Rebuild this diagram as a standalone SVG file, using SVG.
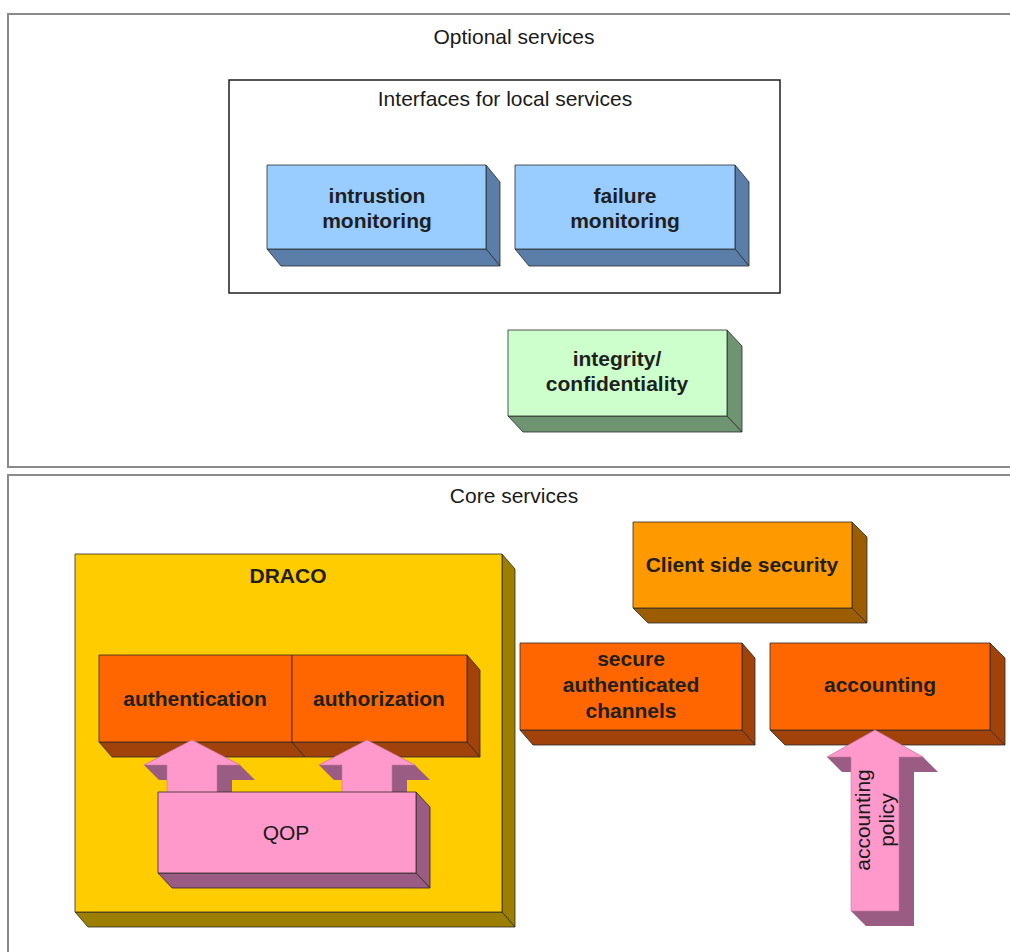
<svg xmlns="http://www.w3.org/2000/svg" width="1010" height="952" viewBox="0 0 1010 952">
  <defs>
    <style>
      .frame { fill: #ffffff; stroke: #8a8a8a; stroke-width: 2; }
      .panel { fill: #ffffff; stroke: #1e1e1e; stroke-width: 1.5; }
      .face { stroke: #2b2b2b; stroke-width: 0.8; stroke-linejoin: round; }
      .blue-f { fill: #99ccff; } .blue-s { fill: #5a7ea8; }
      .green-f { fill: #ccffcc; } .green-s { fill: #6f9472; }
      .amber-f { fill: #ff9900; } .amber-s { fill: #9c5c00; }
      .red-f { fill: #ff6600; } .red-s { fill: #a0420a; }
      .gold-f { fill: #ffcc00; } .gold-s { fill: #9c7e00; }
      .pink-f { fill: #ff99cc; } .pink-s { fill: #9a5c82; }
      .arrow-f { fill: #ff99cc; stroke: #c77aa3; stroke-width: 0.6; stroke-linejoin: round; }
      .arrow-s { fill: #9a5c82; }
      .title { font-family: "Liberation Sans", Arial, sans-serif; font-size: 21px; fill: #1a1a1a; text-anchor: middle; }
      .label { font-family: "Liberation Sans", Arial, sans-serif; font-size: 21px; font-weight: bold; fill: #1f1f1f; text-anchor: middle; }
    </style>
  </defs>

  <rect x="0" y="0" width="1010" height="952" fill="#ffffff"/>

  <!-- Optional services frame -->
  <g id="optional-services">
    <rect class="frame" x="8" y="14" width="1012" height="453"/>
    <text class="title" x="514" y="44">Optional services</text>
  </g>

  <!-- Core services frame -->
  <g id="core-services">
    <rect class="frame" x="8" y="475" width="1012" height="490"/>
    <text class="title" x="514" y="503">Core services</text>
  </g>

  <!-- Interfaces for local services panel -->
  <g id="local-interfaces">
    <rect class="panel" x="229" y="80" width="551" height="213"/>
    <text class="title" x="505" y="106">Interfaces for local services</text>
  </g>

  <g id="intrusion-monitoring">
    <polygon class="face blue-s" points="486,165 500,182 500,266 486,249"/>
    <polygon class="face blue-s" points="267,249 486,249 500,266 281,266"/>
    <rect class="face blue-f" x="267" y="165" width="219" height="84"/>
    <text class="label" x="377" y="203">intrustion</text>
    <text class="label" x="377" y="228">monitoring</text>
  </g>

  <g id="failure-monitoring">
    <polygon class="face blue-s" points="735,165 749,182 749,266 735,249"/>
    <polygon class="face blue-s" points="515,249 735,249 749,266 529,266"/>
    <rect class="face blue-f" x="515" y="165" width="220" height="84"/>
    <text class="label" x="625" y="203">failure</text>
    <text class="label" x="625" y="228">monitoring</text>
  </g>

  <g id="integrity-confidentiality">
    <polygon class="face green-s" points="727,330 742,346 742,432 727,416"/>
    <polygon class="face green-s" points="508,416 727,416 742,432 523,432"/>
    <rect class="face green-f" x="508" y="330" width="219" height="86"/>
    <text class="label" x="617" y="366">integrity/</text>
    <text class="label" x="617" y="391">confidentiality</text>
  </g>

  <g id="draco">
    <polygon class="face gold-s" points="502,554 515,569 515,927 502,912"/>
    <polygon class="face gold-s" points="75,912 502,912 515,927 88,927"/>
    <rect class="face gold-f" x="75" y="554" width="427" height="358"/>
    <text class="label" x="288" y="583">DRACO</text>
  </g>

  <g id="authentication">
    <polygon class="face red-s" points="99,742 292,742 305,757 112,757"/>
    <rect class="face red-f" x="99" y="655" width="193" height="87"/>
    <text class="label" x="195" y="706">authentication</text>
  </g>

  <g id="authorization">
    <polygon class="face red-s" points="467,655 480,670 480,757 467,742"/>
    <polygon class="face red-s" points="292,742 467,742 480,757 305,757"/>
    <rect class="face red-f" x="292" y="655" width="175" height="87"/>
    <text class="label" x="379" y="706">authorization</text>
  </g>

  <!-- Extruded block arrows -->
  <g id="connectors">
    <g id="qop-to-authentication">
      <polygon class="arrow-s" points="192,740 240,765 255,780 232,780 232,815 182,815 167,800 167,780 159,780 144,765"/>
      <polygon class="arrow-f" points="192,740 240,765 217,765 217,800 167,800 167,765 144,765"/>
    </g>
    <g id="qop-to-authorization">
      <polygon class="arrow-s" points="367,740 415,765 430,780 407,780 407,815 357,815 342,800 342,780 334,780 319,765"/>
      <polygon class="arrow-f" points="367,740 415,765 392,765 392,800 342,800 342,765 319,765"/>
    </g>
  </g>

  <g id="qop">
    <polygon class="face pink-s" points="416,792 430,807 430,888 416,873"/>
    <polygon class="face pink-s" points="158,873 416,873 430,888 172,888"/>
    <rect class="face pink-f" x="158" y="792" width="258" height="81"/>
    <text class="title" x="286" y="840">QOP</text>
  </g>

  <g id="client-side-security">
    <polygon class="face amber-s" points="852,522 867,537 867,623 852,608"/>
    <polygon class="face amber-s" points="633,608 852,608 867,623 648,623"/>
    <rect class="face amber-f" x="633" y="522" width="219" height="86"/>
    <text class="label" x="742" y="572">Client side security</text>
  </g>

  <g id="secure-channels">
    <polygon class="face red-s" points="742,643 755,658 755,745 742,730"/>
    <polygon class="face red-s" points="520,730 742,730 755,745 533,745"/>
    <rect class="face red-f" x="520" y="643" width="222" height="87"/>
    <text class="label" x="631" y="666">secure</text>
    <text class="label" x="631" y="692">authenticated</text>
    <text class="label" x="631" y="718">channels</text>
  </g>

  <g id="accounting">
    <polygon class="face red-s" points="990,643 1005,658 1005,745 990,730"/>
    <polygon class="face red-s" points="770,730 990,730 1005,745 785,745"/>
    <rect class="face red-f" x="770" y="643" width="220" height="87"/>
    <text class="label" x="880" y="692">accounting</text>
  </g>

  <g id="accounting-policy">
    <polygon class="arrow-s" points="875,730 923,757 938,772 914,772 914,926 866,926 851,911 851,772 842,772 827,757"/>
    <polygon class="arrow-f" points="875,730 923,757 899,757 899,911 851,911 851,757 827,757"/>
    <g transform="translate(875,820) rotate(-90)">
      <text class="title" x="0" y="-5">accounting</text>
      <text class="title" x="0" y="19">policy</text>
    </g>
  </g>
</svg>
